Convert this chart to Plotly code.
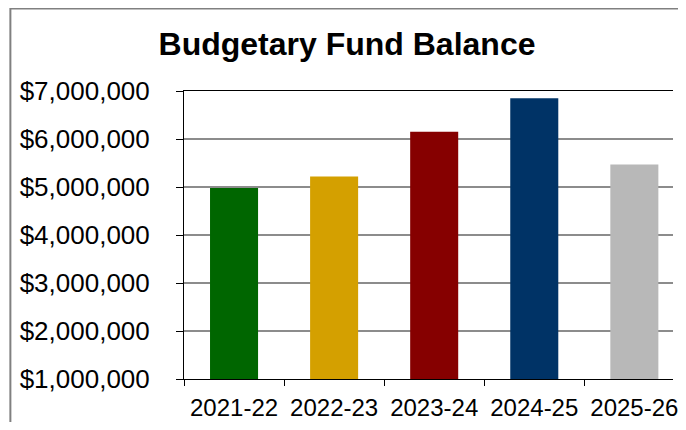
import plotly.graph_objects as go

categories = ["2021-22", "2022-23", "2023-24", "2024-25", "2025-26"]
balances = [4980000, 5220000, 6150000, 6850000, 5470000]
bar_colors = ["#006600", "#D4A000", "#860000", "#003366", "#B8B8B8"]

# page body has an 8px margin; keep the figure inside the window so no scrollbars appear
W, H = 670, 414
L, R, T, B = 176, 0, 83, 43
plot_w = W - L - R
plot_h = H - T - B
cat_px = 101.1
x_end = -0.5 + plot_w / cat_px

fig = go.Figure(
    go.Bar(
        x=categories,
        y=balances,
        marker=dict(color=bar_colors, line=dict(width=0)),
        hoverinfo="x+y",
    )
)

# outer chart frame (cropped at right and bottom)
fx0 = (0.6 - L) / plot_w
fy1 = (H - B - 0.4) / plot_h
fig.add_shape(type="rect", xref="paper", yref="paper",
              x0=fx0, x1=2, y0=-1, y1=fy1,
              line=dict(color="#808080", width=2), layer="below")

fig.update_layout(
    width=W, height=H,
    margin=dict(l=L, r=R, t=T, b=B, pad=0),
    paper_bgcolor="white", plot_bgcolor="white",
    font=dict(family="Liberation Sans, Arial, sans-serif", color="black"),
    title=dict(text="<b>Budgetary Fund Balance</b>", x=339 / W, xanchor="center",
               y=1 - 36 / H, yanchor="middle",
               font=dict(size=32, family="Liberation Sans, Arial, sans-serif", color="black")),
    bargap=0.52,
    showlegend=False,
)

fig.update_xaxes(
    type="category",
    range=[-0.5, x_end],
    showline=True, linecolor="black", linewidth=1, mirror=True,
    ticks="outside", ticklen=6, tickcolor="black", tickwidth=1,
    tickson="boundaries",
    tickfont=dict(size=24),
    ticklabelstandoff=7,
    showgrid=False,
)

fig.update_yaxes(
    range=[1000000, 7000000],
    dtick=1000000,
    tickprefix="$", tickformat=",d",
    showline=True, linecolor="black", linewidth=1,
    ticks="outside", ticklen=7, tickcolor="black", tickwidth=1,
    tickfont=dict(size=26),
    ticklabelstandoff=21,
    showgrid=True, gridcolor="#8c8c8c", gridwidth=2,
    zeroline=False,
)

fig.write_html("out.html")
